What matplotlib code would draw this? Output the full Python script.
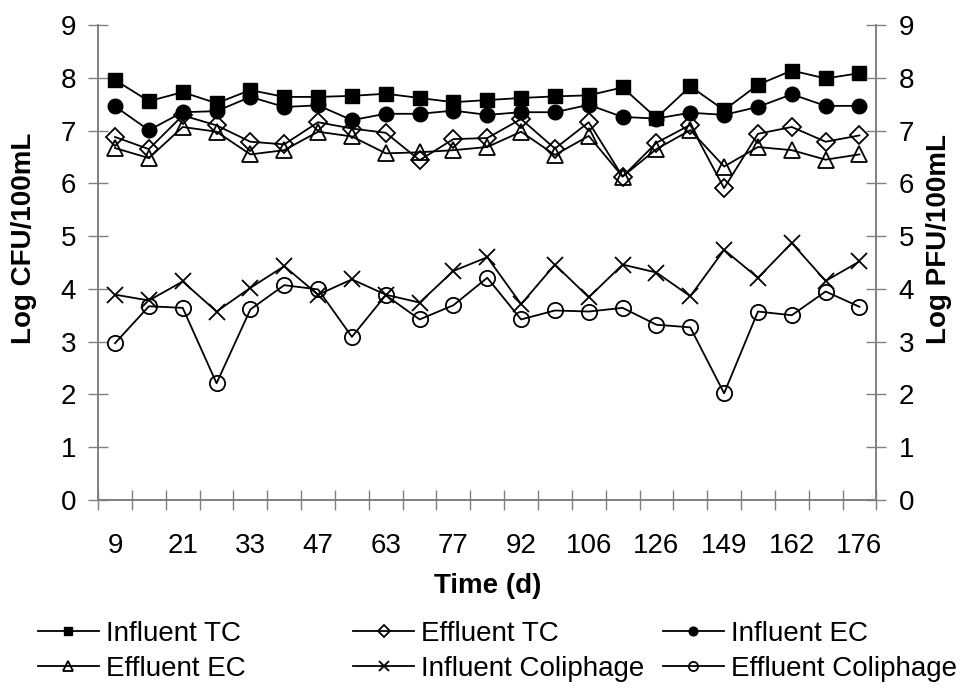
import numpy as np
import matplotlib.pyplot as plt

plt.rcParams['font.family'] = ['Liberation Sans', 'DejaVu Sans']

# sampling days (every other one is labelled on the axis)
days = [9, 15, 21, 27, 33, 40, 47, 54, 63, 70, 77, 84, 92, 99, 106, 113, 126, 140, 149, 155, 162, 169, 176]

influent_tc = [7.96, 7.56, 7.73, 7.52, 7.77, 7.64, 7.64, 7.66, 7.70, 7.62, 7.54, 7.58,
               7.62, 7.65, 7.67, 7.82, 7.24, 7.84, 7.39, 7.87, 8.14, 7.99, 8.09]
effluent_tc = [6.88, 6.65, 7.29, 7.10, 6.79, 6.74, 7.16, 7.04, 6.96, 6.44, 6.84, 6.86,
               7.22, 6.66, 7.16, 6.13, 6.77, 7.11, 5.91, 6.94, 7.07, 6.79, 6.91]
influent_ec = [7.46, 7.01, 7.35, 7.37, 7.64, 7.45, 7.48, 7.20, 7.32, 7.32, 7.38, 7.30,
               7.35, 7.35, 7.49, 7.26, 7.23, 7.34, 7.30, 7.45, 7.69, 7.47, 7.47]
effluent_ec = [6.67, 6.48, 7.07, 6.98, 6.55, 6.63, 6.98, 6.89, 6.57, 6.59, 6.63, 6.69,
               6.98, 6.54, 6.90, 6.13, 6.65, 7.01, 6.32, 6.69, 6.63, 6.45, 6.55]
influent_coli = [3.89, 3.78, 4.14, 3.57, 4.02, 4.43, 3.89, 4.18, 3.89, 3.74, 4.34, 4.60,
                 3.71, 4.46, 3.84, 4.46, 4.31, 3.86, 4.74, 4.21, 4.87, 4.15, 4.52]
effluent_coli = [2.97, 3.67, 3.64, 2.21, 3.61, 4.07, 3.99, 3.09, 3.88, 3.42, 3.69, 4.21,
                 3.42, 3.59, 3.57, 3.64, 3.32, 3.27, 2.02, 3.57, 3.50, 3.95, 3.66]

x = np.arange(len(days))
fs = 20
grey = '#808080'

fig = plt.figure(figsize=(9.62, 7), dpi=100)
ax = fig.add_axes([0.102, 0.286, 0.809, 0.678])

lw = 1.3
mew = 1.3
ax.plot(x, influent_tc, color='black', lw=lw, marker='s', ms=10, mfc='black', mec='black', label='Influent TC')
ax.plot(x, effluent_tc, color='black', lw=lw, marker='D', ms=9.5, mfc='none', mec='black', mew=mew, label='Effluent TC')
ax.plot(x, influent_ec, color='black', lw=lw, marker='o', ms=10.5, mfc='black', mec='black', label='Influent EC')
ax.plot(x, effluent_ec, color='black', lw=lw, marker='^', ms=12, mfc='none', mec='black', mew=mew, label='Effluent EC')
ax.plot(x, influent_coli, color='black', lw=lw, marker='x', ms=11.5, mec='black', mew=mew, label='Influent Coliphage')
ax.plot(x, effluent_coli, color='black', lw=lw, marker='o', ms=11, mfc='none', mec='black', mew=mew, label='Effluent Coliphage')

ax.set_xlim(-0.5, len(days) - 0.5)
ax.set_ylim(0, 9)
ax.set_yticks(range(0, 10))

# category boundaries get tick marks, labels sit under every other category
ax.set_xticks(np.arange(-0.5, len(days), 1.0))
ax.set_xticklabels([])
ax.set_xticks(x[::2], minor=True)
ax.set_xticklabels([str(d) for d in days[::2]], minor=True, fontsize=fs)
ax.tick_params(axis='x', which='minor', length=0, pad=24)
ax.tick_params(axis='x', which='major', direction='inout', length=14, color=grey, width=1)

ax.tick_params(axis='y', direction='inout', length=14, color=grey, width=1, labelsize=fs, pad=9)

ax2 = ax.twinx()
ax2.set_ylim(0, 9)
ax2.set_yticks(range(0, 10))
ax2.tick_params(axis='y', direction='inout', length=14, color=grey, width=1, labelsize=fs, pad=9)

for a in (ax, ax2):
    a.spines['top'].set_visible(False)
    for s in ('left', 'right', 'bottom'):
        a.spines[s].set_color(grey)
        a.spines[s].set_linewidth(1.2)

ax.set_ylabel('Log CFU/100mL', fontsize=fs, fontweight='bold', va='center')
ax2.set_ylabel('Log PFU/100mL', fontsize=fs, fontweight='bold', rotation=90, va='center')
ax.yaxis.set_label_coords(-0.095, 0.55)
ax2.yaxis.set_label_coords(1.080, 0.55)
ax.set_xlabel('Time (d)', fontsize=fs, fontweight='bold', va='center')
ax.xaxis.set_label_coords(0.5, -0.182)

# legend laid out as three fixed columns, two entries each
h, l = ax.get_legend_handles_labels()
columns = [(0, 3, 0.039), (1, 4, 0.367), (2, 5, 0.689)]
for i, j, xpos in columns:
    fig.legend([h[i], h[j]], [l[i], l[j]], loc='upper left', bbox_to_anchor=(xpos, 0.113),
               ncol=1, frameon=False, fontsize=fs, handlelength=2.2, handletextpad=0.25,
               labelspacing=0.33, markerscale=0.6, borderpad=0, borderaxespad=0)

fig.savefig('out.png', dpi=100)
